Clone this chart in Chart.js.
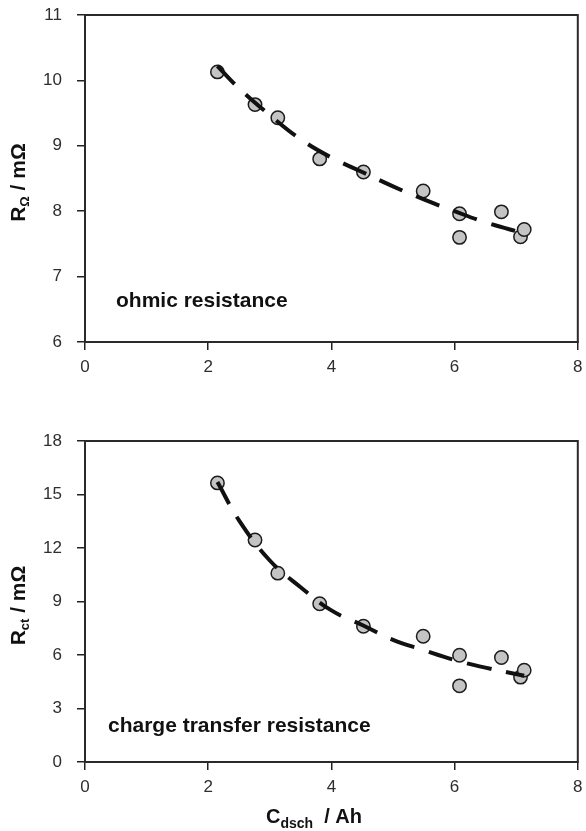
<!DOCTYPE html>
<html>
<head>
<meta charset="utf-8">
<script src="https://cdn.jsdelivr.net/npm/chart.js@4.4.1/dist/chart.umd.min.js"></script>
<style>
  body { margin: 0; background: #fff; }
  .panel { position: absolute; left: 0; width: 586px; }
</style>
</head>
<body>
<div class="panel" style="top:0;height:420px"><canvas id="ohmicChart"></canvas></div>
<div class="panel" style="top:420px;height:411px"><canvas id="ctChart"></canvas></div>
<script>
// discharge capacity of each measurement (Ah)
const capacity = [2.15, 2.76, 3.13, 3.81, 4.52, 5.49, 6.08, 6.08, 6.76, 7.07, 7.13];
// ohmic resistance (mOhm)
const rOhmic = [10.13, 9.63, 9.43, 8.80, 8.60, 8.31, 7.96, 7.60, 7.99, 7.61, 7.72];
// charge transfer resistance (mOhm)
const rCt = [15.65, 12.45, 10.59, 8.87, 7.61, 7.05, 5.99, 4.27, 5.86, 4.76, 5.15];

// fitted trend curves
const fitCapacity = [2.15, 2.5, 3.0, 3.5, 4.0, 4.5, 5.0, 5.5, 6.0, 6.5, 7.13];
const fitOhmic = [10.22, 9.88, 9.47, 9.10, 8.82, 8.60, 8.38, 8.18, 8.00, 7.83, 7.66];
const fitCt = [15.7, 13.55, 11.3, 9.8, 8.5, 7.68, 6.85, 6.27, 5.72, 5.29, 4.84];

const xTicks = [0, 2, 4, 6, 8];
const ohmicTicks = [6, 7, 8, 9, 10, 11];
const ctTicks = [0, 3, 6, 9, 12, 15, 18];

const FONT = '"Liberation Sans", Arial, Helvetica, sans-serif';
Chart.defaults.font.family = FONT;

// draws a run of text pieces, some of them as subscripts
function drawRich(ctx, parts, x, y) {
  let total = 0;
  parts.forEach(p => {
    ctx.font = 'bold ' + p[1] + 'px ' + FONT;
    total += ctx.measureText(p[0]).width;
  });
  let cx = x - total / 2;
  parts.forEach(p => {
    ctx.font = 'bold ' + p[1] + 'px ' + FONT;
    ctx.fillText(p[0], cx, y + p[2]);
    cx += ctx.measureText(p[0]).width;
  });
}

const decorations = {
  id: 'decorations',
  afterDraw(chart, args, opts) {
    const ctx = chart.ctx;
    const a = chart.chartArea;
    ctx.save();
    // box around the plot
    ctx.strokeStyle = '#2a2a2a';
    ctx.lineWidth = 2;
    ctx.strokeRect(a.left, a.top, a.right - a.left, a.bottom - a.top);

    ctx.fillStyle = '#111';
    ctx.textAlign = 'left';
    ctx.textBaseline = 'alphabetic';
    ctx.font = 'bold 21px ' + FONT;
    ctx.fillText(opts.label, a.left + opts.labelDx, a.bottom - opts.labelDy);

    // y axis title, rotated
    ctx.save();
    ctx.translate(opts.yTitleX, (a.top + a.bottom) / 2 + 4);
    ctx.rotate(-Math.PI / 2);
    drawRich(ctx, opts.yTitle, 0, 0);
    ctx.restore();

    if (opts.xTitle) {
      drawRich(ctx, opts.xTitle, opts.xTitleX, opts.xTitleY);
    }
    ctx.restore();
  }
};

function makeChart(id, values, fitValues, yTicks, xAxisHeight, padTop, deco) {
  const points = capacity.map((c, i) => ({ x: c, y: values[i] }));
  const fit = fitCapacity.map((c, i) => ({ x: c, y: fitValues[i] }));
  const tickFont = { family: FONT, size: 17 };
  return new Chart(document.getElementById(id), {
    type: 'scatter',
    data: {
      datasets: [{
        data: fit,
        showLine: true,
        borderColor: '#111',
        borderWidth: 4,
        borderDash: [25, 15],
        tension: 0.4,
        pointRadius: 0,
        order: 1
      }, {
        data: points,
        pointRadius: 6.7,
        pointBackgroundColor: '#c4c4c4',
        pointBorderColor: '#1c1c1c',
        pointBorderWidth: 1.5,
        order: 2
      }]
    },
    options: {
      responsive: true,
      maintainAspectRatio: false,
      animation: false,
      layout: { padding: { left: 0, right: 4, top: padTop, bottom: 0 } },
      plugins: { legend: { display: false }, tooltip: { enabled: false }, decorations: deco },
      scales: {
        x: {
          type: 'linear',
          min: xTicks[0],
          max: xTicks[xTicks.length - 1],
          afterBuildTicks: s => { s.ticks = xTicks.map(v => ({ value: v })); },
          ticks: { color: '#2e2e2e', font: tickFont, padding: 7, maxRotation: 0 },
          grid: { drawOnChartArea: false, tickLength: 8, color: '#222', lineWidth: 1.5 },
          border: { color: '#222', width: 2 },
          afterFit: s => { s.height = xAxisHeight; s.paddingLeft = 0; s.paddingRight = 0; }
        },
        y: {
          min: yTicks[0],
          max: yTicks[yTicks.length - 1],
          afterBuildTicks: s => { s.ticks = yTicks.map(v => ({ value: v })); },
          ticks: { color: '#2e2e2e', font: tickFont, padding: 15 },
          grid: { drawOnChartArea: false, tickLength: 8, color: '#222', lineWidth: 1.5 },
          border: { color: '#222', width: 2 },
          afterFit: s => { s.width = 85; s.paddingTop = 0; s.paddingBottom = 0; }
        }
      }
    },
    plugins: [decorations]
  });
}

makeChart('ohmicChart', rOhmic, fitOhmic, ohmicTicks, 78, 15, {
  label: 'ohmic resistance',
  labelDx: 31, labelDy: 35,
  yTitleX: 25,
  yTitle: [['R', 21, 0], ['\u03A9', 13, 4], [' / m\u03A9', 21, 0]]
});

makeChart('ctChart', rCt, fitCt, ctTicks, 69, 21, {
  label: 'charge transfer resistance',
  labelDx: 23, labelDy: 30,
  yTitleX: 25,
  yTitle: [['R', 21, 0], ['ct', 13, 4], [' / m\u03A9', 21, 0]],
  xTitle: [['C', 20, 0], ['dsch', 14, 5], ['  / Ah', 20, 0]],
  xTitleX: 314, xTitleY: 403
});
</script>
</body>
</html>
